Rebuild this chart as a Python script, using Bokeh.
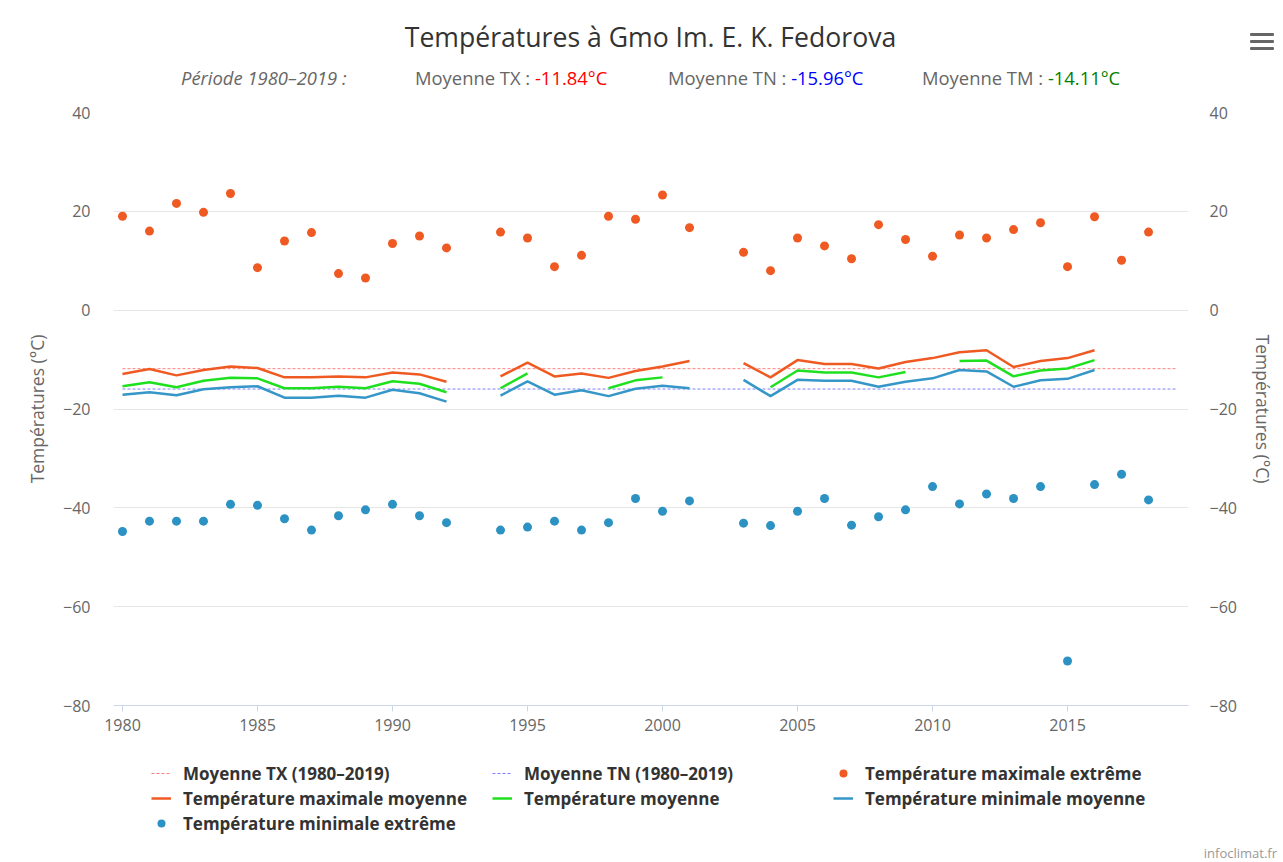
from bokeh.plotting import figure
from bokeh.models import (Range1d, FixedTicker, LinearAxis, Legend, LegendItem,
                          ColumnDataSource, Div)
from bokeh.layouts import column
from bokeh.embed import file_html
from bokeh.resources import INLINE

nan = float("nan")

# ---------------- data ----------------
years = list(range(1980, 2019))

tx_extreme = [19.0, 16.0, 21.6, 19.8, 23.6, 8.6, 14.0, 15.7, 7.4, 6.5, 13.5, 15.0, 12.6,
              nan,
              15.8, 14.6, 8.8, 11.1, 19.0, 18.4, 23.3, 16.7,
              nan,
              11.7, 8.0, 14.6, 13.0, 10.4, 17.3, 14.3, 10.9, 15.2, 14.6, 16.3, 17.7, 8.8, 18.9, 10.1, 15.8]

tn_extreme = [-44.8, -42.7, -42.7, -42.7, -39.3, -39.5, -42.2, -44.5, -41.6, -40.4, -39.3, -41.6, -43.0,
              nan,
              -44.5, -43.9, -42.7, -44.5, -43.0, -38.1, -40.7, -38.6,
              nan,
              -43.1, -43.6, -40.7, -38.1, -43.5, -41.8, -40.4, -35.7, -39.2, -37.2, -38.1, -35.7, -71.0, -35.3, -33.2, -38.4]

tx_mean = [-12.9, -11.9, -13.2, -12.1, -11.4, -11.7, -13.6, -13.6, -13.4, -13.6, -12.6, -13.0, -14.5,
           nan,
           -13.4, -10.6, -13.4, -12.8, -13.7, -12.3, -11.4, -10.3,
           nan,
           -10.7, -13.6, -10.1, -10.9, -10.9, -11.8, -10.5, -9.7, -8.5, -8.1, -11.5, -10.3, -9.7, -8.1,
           nan, nan]

tm_mean = [-15.4, -14.6, -15.6, -14.3, -13.7, -13.8, -15.8, -15.8, -15.5, -15.8, -14.4, -14.9, -16.6,
           nan,
           -15.8, -12.8, nan, nan, -15.8, -14.2, -13.6, nan,
           nan,
           nan, -15.6, -12.2, -12.6, -12.6, -13.6, -12.5, nan, -10.3, -10.2, -13.4, -12.2, -11.8, -10.1,
           nan, nan]

tn_mean = [-17.1, -16.6, -17.2, -16.0, -15.6, -15.4, -17.7, -17.7, -17.3, -17.7, -16.1, -16.8, -18.5,
           nan,
           -17.3, -14.4, -17.1, -16.2, -17.4, -15.9, -15.3, -15.8,
           nan,
           -14.1, -17.4, -14.1, -14.3, -14.3, -15.5, -14.5, -13.8, -12.1, -12.4, -15.5, -14.2, -13.9, -12.1,
           nan, nan]

period_years = [1980, 2019]
moy_tx = -11.84
moy_tn = -15.96
moy_tm = -14.11
moy_tx_line = [moy_tx, moy_tx]
moy_tn_line = [moy_tn, moy_tn]

y_ticks = [-80, -60, -40, -20, 0, 20, 40]
x_ticks = [1980, 1985, 1990, 1995, 2000, 2005, 2010, 2015]

title_text = "Températures à Gmo Im. E. K. Fedorova"
period_text = "Période 1980–2019 :"
credit_text = "infoclimat.fr"
axis_title = "Températures (°C)"
legend_labels = ["Moyenne TX (1980–2019)", "Moyenne TN (1980–2019)", "Température maximale extrême",
                 "Température maximale moyenne", "Température moyenne", "Température minimale moyenne",
                 "Température minimale extrême"]

# ---------------- style ----------------
FONT = "Open Sans"
C_ORANGE = "#ef5a23"
C_GREEN = "#1fe01f"
C_BLUE = "#3596c8"
C_BLUE_DOT = "#2b92c3"
C_REF_TX = "#ff7f7f"
C_REF_TN = "#7f7fff"

W = 1281
HEADER_H = 95
MAIN_H = 645          # page 95 .. 740
LEG_H = 107           # page 740 .. 847
FOOTER_H = 15
FRAME_L, FRAME_R = 113, 1188

# ---------------- header (title + subtitle + menu icon) ----------------
bar = 'position:absolute;left:1250px;width:24px;height:3px;background:#666666;border-radius:1px;'
sub = 'position:absolute;top:66px;font-size:18.4px;line-height:24px;color:#666666;white-space:nowrap;'
header_html = f"""
<div style="position:relative;width:{W}px;height:{HEADER_H}px;font-family:'{FONT}';">
  <div style="position:absolute;left:{FRAME_L}px;width:{FRAME_R - FRAME_L}px;top:20px;text-align:center;
              font-size:26.6px;line-height:34px;color:#333333;white-space:nowrap;">{title_text}</div>
  <div style="{sub}left:181px;font-style:italic;">{period_text}</div>
  <div style="{sub}left:415px;">Moyenne TX : <span style="color:#ff0000;">{moy_tx:.2f}°C</span></div>
  <div style="{sub}left:668px;">Moyenne TN : <span style="color:#0000ff;">{moy_tn:.2f}°C</span></div>
  <div style="{sub}left:922px;">Moyenne TM : <span style="color:#008000;">{moy_tm:.2f}°C</span></div>
  <div style="{bar}top:33px;"></div>
  <div style="{bar}top:40px;"></div>
  <div style="{bar}top:47px;"></div>
</div>
"""
header = Div(text=header_html, width=W, height=HEADER_H, margin=0)

footer_html = f"""
<div style="position:relative;width:{W}px;height:{FOOTER_H}px;font-family:'{FONT}';">
  <div style="position:absolute;right:4px;top:-2px;font-size:13px;line-height:16px;color:#999999;">{credit_text}</div>
</div>
"""
footer = Div(text=footer_html, width=W, height=FOOTER_H, margin=0)

# ---------------- main figure ----------------
p = figure(width=W, height=MAIN_H, output_backend="svg", toolbar_location=None,
           x_range=Range1d(1979.667, 2019.48), y_range=Range1d(-80, 40),
           min_border_left=FRAME_L, min_border_right=W - FRAME_R, min_border_top=17,
           min_border_bottom=MAIN_H - 17 - 593,
           background_fill_color="white", border_fill_color="white", margin=0)
p.outline_line_color = None
p.xgrid.grid_line_color = None
p.ygrid.grid_line_color = "#e6e6e6"
p.ygrid.grid_line_width = 1
p.ygrid.ticker = FixedTicker(ticks=y_ticks)

xa = p.xaxis[0]
xa.ticker = FixedTicker(ticks=x_ticks)
xa.axis_line_color = "#ccd6eb"
xa.major_tick_line_color = "#ccd6eb"
xa.major_tick_out = 6
xa.major_tick_in = 0
xa.minor_tick_line_color = None
xa.major_label_text_color = "#666666"
xa.major_label_text_font = FONT
xa.major_label_text_font_size = "16px"
xa.major_label_standoff = 7

def style_y(ax, standoff):
    ax.ticker = FixedTicker(ticks=y_ticks)
    ax.axis_line_color = None
    ax.major_tick_line_color = None
    ax.minor_tick_line_color = None
    ax.major_tick_out = 0
    ax.major_tick_in = 0
    ax.major_label_standoff = standoff
    ax.major_label_text_color = "#666666"
    ax.major_label_text_font = FONT
    ax.major_label_text_font_size = "16px"
    ax.axis_label = axis_title
    ax.axis_label_text_font = FONT
    ax.axis_label_text_font_size = "17.5px"
    ax.axis_label_text_font_style = "normal"
    ax.axis_label_text_color = "#666666"
    ax.axis_label_standoff = 11

style_y(p.yaxis[0], 23)
ra = LinearAxis()
style_y(ra, 21)
p.add_layout(ra, "right")

src = ColumnDataSource(dict(year=years, tx_ext=tx_extreme, tn_ext=tn_extreme,
                            tx_mean=tx_mean, tm_mean=tm_mean, tn_mean=tn_mean))
ref = ColumnDataSource(dict(year=period_years, tx=moy_tx_line, tn=moy_tn_line))

def add_series(fig, size):
    return [
        fig.line("year", "tx", source=ref, line_color=C_REF_TX, line_width=1, line_dash="3 2"),
        fig.line("year", "tn", source=ref, line_color=C_REF_TN, line_width=1, line_dash="3 2"),
        fig.scatter("year", "tx_ext", source=src, size=size, fill_color=C_ORANGE, line_color=None),
        fig.line("year", "tx_mean", source=src, line_color=C_ORANGE, line_width=2.5),
        fig.line("year", "tm_mean", source=src, line_color=C_GREEN, line_width=2.5),
        fig.line("year", "tn_mean", source=src, line_color=C_BLUE, line_width=2.5),
        fig.scatter("year", "tn_ext", source=src, size=size, fill_color=C_BLUE_DOT, line_color=None),
    ]

add_series(p, 9)

# ---------------- legend figure ----------------
# The same series are attached to a strip whose ranges hold none of the data
# (so nothing is drawn there); it only carries the legend under the chart.
lg = figure(width=W, height=LEG_H, output_backend="svg", toolbar_location=None,
            x_range=Range1d(0, 1), y_range=Range1d(0, 1),
            x_axis_location=None, y_axis_location=None,
            min_border_left=FRAME_L, min_border_right=W - FRAME_R, min_border_top=0, min_border_bottom=0,
            margin=0, background_fill_color="white", border_fill_color="white")
lg.outline_line_color = None
lg.grid.visible = False
glyphs = add_series(lg, 7)

legend = Legend(items=[LegendItem(label=lab, renderers=[g]) for lab, g in zip(legend_labels, glyphs)],
                orientation="horizontal", ncols=3, location=(151 - 10 - FRAME_L, 2.5))
legend.label_text_font = FONT
legend.label_text_font_size = "17px"
legend.label_text_font_style = "bold"
legend.label_text_color = "#333333"
legend.label_width = 307
legend.label_height = 20
legend.label_standoff = 12
legend.glyph_width = 20
legend.glyph_height = 20
legend.spacing = 2
legend.padding = 10
legend.margin = 0
legend.border_line_alpha = 0
legend.background_fill_alpha = 0
lg.add_layout(legend, "center")

layout = column(header, p, lg, footer, spacing=0, margin=0)

open("out.html", "w").write(file_html(layout, INLINE))
